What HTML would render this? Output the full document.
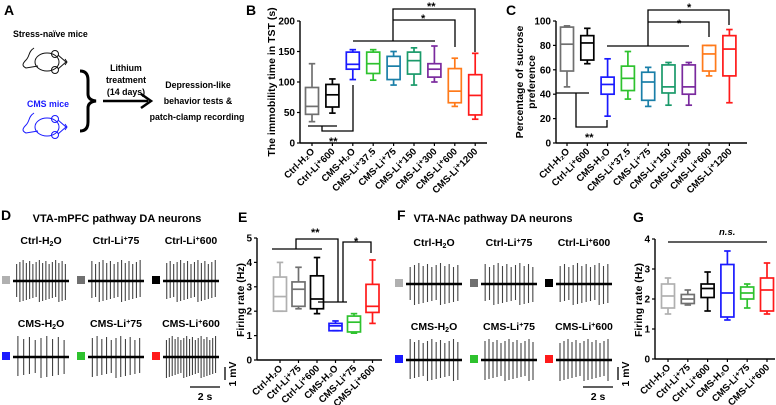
<!DOCTYPE html>
<html><head><meta charset="utf-8">
<style>
html,body{margin:0;padding:0;background:#fff;}
svg{display:block;font-family:"Liberation Sans",Arial,sans-serif;font-weight:bold;}
</style></head>
<body>
<svg id="fig" width="776" height="405" viewBox="0 0 776 405" xmlns="http://www.w3.org/2000/svg">
<!-- Panel A -->
<g>
<text x="4" y="15" font-size="14">A</text>
<text x="13" y="37" font-size="8.8">Stress-naïve mice</text>
<g fill="none" stroke="#111" stroke-width="1">
<path d="M34 48 C28 52 30 56 26 60 C22 64 22 66 26 68 L38 66"/>
<ellipse cx="47" cy="62" rx="12" ry="9"/>
<path d="M58 55 L66 62 L58 69"/>
<circle cx="55" cy="54" r="3.5"/><circle cx="55" cy="70" r="3.5"/>
<path d="M65 59 l2 3 l-2 3"/>
</g>
<text x="27" y="107" font-size="8.8" fill="#1a1aff">CMS mice</text>
<g fill="none" stroke="#1a1aff" stroke-width="1">
<path d="M34 113 C28 117 30 121 26 125 C22 129 22 131 26 133 L38 131"/>
<ellipse cx="47" cy="127" rx="12" ry="9"/>
<path d="M58 120 L66 127 L58 134"/>
<circle cx="55" cy="119" r="3.5"/><circle cx="55" cy="135" r="3.5"/>
<path d="M65 124 l2 3 l-2 3"/>
</g>
<path d="M80 71 Q88 71 88 80 L88 94 Q88 100 96 101 Q88 102 88 108 L88 122 Q88 131 80 131" fill="none" stroke="#000" stroke-width="3"/>
<line x1="103" y1="101" x2="148" y2="101" stroke="#000" stroke-width="2.5"/>
<path d="M141 94 L151 101 L141 108" fill="none" stroke="#000" stroke-width="2.5"/>
<g font-size="8.8" text-anchor="middle">
<text x="126" y="71">Lithium</text><text x="126" y="83">treatment</text><text x="126" y="95">(14 days)</text>
</g>
<g font-size="8.8" text-anchor="middle">
<text x="198" y="88">Depression-like</text><text x="198" y="104">behavior tests &amp;</text><text x="197" y="120">patch-clamp recording</text>
</g>
</g>
<g id="pB"></g>
<g id="pC"></g>
<g id="pD"></g>
<g id="pE"></g>
<g id="pF"></g>
<g id="pG"></g>
</svg>
<script>
// ---------- Data ----------
const bCats = ["Ctrl-H₂O","Ctrl-Li⁺600","CMS-H₂O","CMS-Li⁺37.5","CMS-Li⁺75","CMS-Li⁺150","CMS-Li⁺300","CMS-Li⁺600","CMS-Li⁺1200"];
const bMin = [35,49,104,103,95,95,100,60,39];
const bQ1  = [47,59,121,114,104,113,108,66,46];
const bMed = [60,79,129,130,126,135,121,85,78];
const bQ3  = [91,96,149,149,142,149,130,122,112];
const bMax = [130,105,153,153,150,156,159,139,147];
const bTicks = [0,50,100,150,200];

const cCats = bCats;
const cMin = [46,65,22,36,30,31,31,55,33];
const cQ1  = [59,68,40,43,35,41,40,59,55];
const cMed = [81,82,48,53,50,46,46,73,77];
const cQ3  = [95,88,54,63,58,64,64,80,88];
const cMax = [96,94,69,75,62,66,66,80,93];
const cTicks = [0,20,40,60,80,100];

const eCats = ["Ctrl-H₂O","Ctrl-Li⁺75","Ctrl-Li⁺600","CMS-H₂O","CMS-Li⁺75","CMS-Li⁺600"];
const eMin = [2.0,2.1,1.9,1.2,1.1,1.5];
const eQ1  = [2.0,2.2,2.1,1.2,1.15,1.95];
const eMed = [2.6,2.9,2.5,1.4,1.55,2.2];
const eQ3  = [3.4,3.2,3.45,1.5,1.8,3.1];
const eMax = [4.0,3.8,4.2,1.6,1.9,4.1];
const eTicks = [0,1,2,3,4,5];

const gCats = eCats;
const gMin = [1.5,1.8,1.6,1.3,1.7,1.5];
const gQ1  = [1.7,1.85,2.05,1.4,2.0,1.6];
const gMed = [2.1,2.0,2.35,2.2,2.2,2.3];
const gQ3  = [2.5,2.15,2.5,3.15,2.4,2.7];
const gMax = [2.7,2.3,2.9,3.6,2.5,3.2];
const gTicks = [0,1,2,3,4];

const bColors = ["#707070","#000","#1a1aff","#2ec22e","#1a7fa8","#1a9a6a","#7a2a9e","#ff7a1a","#ff1a1a"];
const eColors = ["#b0b0b0","#707070","#000","#1a1aff","#2ec22e","#ff1a1a"];

const NS="http://www.w3.org/2000/svg";
function mk(parent,tag,attrs){const e=document.createElementNS(NS,tag);for(const k in attrs)e.setAttribute(k,attrs[k]);parent.appendChild(e);return e;}

function chart(g,o){
  const ys=v=>o.y0-(v-o.vmin)/(o.vmax-o.vmin)*(o.y0-o.y1);
  const xs=i=>o.xFirst+i*o.step;
  const ya=mk(g,'line',{x1:o.ax,y1:o.y1,x2:o.ax,y2:o.y0,stroke:'#000','stroke-width':1.4});
  
  
  const xa=mk(g,'line',{x1:o.ax,y1:o.y0,x2:o.axEnd,y2:o.y0,stroke:'#000','stroke-width':1.4});
  
  
  o.ticks.forEach(t=>{
    mk(g,'line',{x1:o.ax-3,y1:ys(t),x2:o.ax,y2:ys(t),stroke:'#000','stroke-width':1.2});
    const tx=mk(g,'text',{x:o.ax-5,y:ys(t)+3.5,'font-size':10,'text-anchor':'end'});
    tx.textContent=t;
    
    
  });
  o.cats.forEach((c,i)=>{
    const x=xs(i);
    mk(g,'line',{x1:x,y1:o.y0,x2:x,y2:o.y0+3,stroke:'#000','stroke-width':1.2});
    const tx=mk(g,'text',{x:x+3,y:o.y0+9,'font-size':o.cfs||9.6,'text-anchor':'end',transform:`rotate(-45 ${x+3} ${o.y0+9})`});
    tx.textContent=c;
    
    
    const col=o.colors[i], w=o.bw/2;
    const bg=mk(g,'g',{fill:'none',stroke:col,'stroke-width':1.7});
    
    
    mk(bg,'line',{x1:x,y1:ys(o.max[i]),x2:x,y2:ys(o.q3[i])});
    mk(bg,'line',{x1:x,y1:ys(o.q1[i]),x2:x,y2:ys(o.min[i])});
    mk(bg,'line',{x1:x-w/2,y1:ys(o.max[i]),x2:x+w/2,y2:ys(o.max[i])});
    mk(bg,'line',{x1:x-w/2,y1:ys(o.min[i]),x2:x+w/2,y2:ys(o.min[i])});
    mk(bg,'rect',{x:x-w,y:ys(o.q3[i]),width:o.bw,height:Math.max(0.5,ys(o.q1[i])-ys(o.q3[i]))});
    mk(bg,'line',{x1:x-w,y1:ys(o.med[i]),x2:x+w,y2:ys(o.med[i])});
  });
  return {xs,ys};
}
function poly(g,pts,name){const p=mk(g,'polyline',{points:pts.map(p=>p.join(',')).join(' '),fill:'none',stroke:'#000','stroke-width':1.3});}
function txt(g,x,y,s,size,name,extra){const t=mk(g,'text',Object.assign({x:x,y:y,'font-size':size},extra||{}));t.textContent=s;return t;}

// ---------- B ----------
{const g=document.getElementById('pB');
 txt(g,246,15,'B',14,'panel-label-b');
 chart(g,{ax:300,axEnd:487,y0:143,y1:21,vmin:0,vmax:200,ticks:bTicks,cats:bCats,xFirst:312,step:20.4,bw:13,colors:bColors,min:bMin,q1:bQ1,med:bMed,q3:bQ3,max:bMax});
 txt(g,0,0,'The immobility time in TST (s)',10.5,'y-axis-title',{transform:'rotate(-90) translate(-82 275)','text-anchor':'middle'});
 poly(g,[[353,41],[435,41]],'sig-line');
 poly(g,[[393,41],[393,9],[475,9],[475,52]],'sig-line');
 poly(g,[[393,20],[455,20],[455,47]],'sig-line');
 txt(g,421,22,'*',11,'sig-star');
 txt(g,427,10,'**',11,'sig-star');
 poly(g,[[308,126],[337,126]],'sig-line');
 poly(g,[[322,126],[322,131],[353,131],[353,85]],'sig-line');
 txt(g,329,145,'**',11,'sig-star');
}
// ---------- C ----------
{const g=document.getElementById('pC');
 txt(g,506,15,'C',14,'panel-label-c');
 chart(g,{ax:556,axEnd:747,y0:143,y1:21,vmin:0,vmax:100,ticks:cTicks,cats:cCats,xFirst:567,step:20.3,bw:13,colors:bColors,min:cMin,q1:cQ1,med:cMed,q3:cQ3,max:cMax});
 txt(g,0,0,'Percentage of sucrose',10.5,'y-axis-title',{transform:'rotate(-90) translate(-82 523)','text-anchor':'middle'});
 txt(g,0,0,'preference',10.5,'y-axis-title-line2',{transform:'rotate(-90) translate(-82 535)','text-anchor':'middle'});
 poly(g,[[607,46],[689,46]],'sig-line');
 poly(g,[[648,46],[648,10],[729,10],[729,25]],'sig-line');
 poly(g,[[648,22],[709,22],[709,37]],'sig-line');
 txt(g,677,27,'*',11,'sig-star');
 txt(g,687,11,'*',11,'sig-star');
 poly(g,[[556,93],[589,93]],'sig-line');
 poly(g,[[576,93],[576,127],[607,127],[607,120]],'sig-line');
 txt(g,585,141,'**',11,'sig-star');
}
// ---------- E ----------
{const g=document.getElementById('pE');
 txt(g,238,222,'E',14,'panel-label-e');
 chart(g,{ax:257,axEnd:382,y0:360,y1:238,vmin:0,vmax:5,ticks:eTicks,cats:eCats,xFirst:280,step:18.5,bw:13,colors:eColors,min:eMin,q1:eQ1,med:eMed,q3:eQ3,max:eMax});
 txt(g,0,0,'Firing rate (Hz)',10.5,'y-axis-title',{transform:'rotate(-90) translate(-300 244)','text-anchor':'middle'});
 poly(g,[[272,249],[322,249]],'sig-line');
 poly(g,[[296,249],[296,239],[338,239],[338,302]],'sig-line');
 poly(g,[[318,302],[347,302]],'sig-line');
 poly(g,[[343,302],[343,242],[371,242],[371,253]],'sig-line');
 txt(g,311,236,'**',11,'sig-star');
 txt(g,354,245,'*',11,'sig-star');
}
// ---------- G ----------
{const g=document.getElementById('pG');
 txt(g,633,222,'G',14,'panel-label-g');
 chart(g,{ax:655,axEnd:775,y0:359,y1:239,vmin:0,vmax:4,ticks:gTicks,cats:gCats,xFirst:668,step:19.8,bw:13,colors:eColors,min:gMin,q1:gQ1,med:gMed,q3:gQ3,max:gMax});
 txt(g,0,0,'Firing rate (Hz)',10.5,'y-axis-title',{transform:'rotate(-90) translate(-300 642)','text-anchor':'middle'});
 poly(g,[[668,242],[767,242]],'ns-line');
 txt(g,719,235,'n.s.',9.5,'ns-label',{'font-style':'italic'});
}
// ---------- Traces ----------
const dSpikes=[16,14,15,9,11,18];
const fSpikes=[12,12,12,12,13,13];
const traceLabels=[["Ctrl-H","2","O"],["Ctrl-Li","+","75"],["Ctrl-Li","+","600"],["CMS-H","2","O"],["CMS-Li","+","75"],["CMS-Li","+","600"]];
function traces(g,o){
  txt(g,o.lx,220,o.letter,14,'panel-label-'+o.letter.toLowerCase());
  txt(g,o.tx,222,o.title,11,'traces-title',{'text-anchor':'middle'});
  for(let i=0;i<6;i++){
    const col=i%3,row=Math.floor(i/3);
    const x0=o.xs[col],base=o.base[row];
    const lab=traceLabels[i];
    const t=mk(g,'text',{x:x0+28,y:o.ly[row],'font-size':10.5,'text-anchor':'middle'});
    
    
    const a=mk(t,'tspan',{});a.textContent=lab[0];
    const b=mk(t,'tspan',{'font-size':7,dy:lab[1]==='2'?2:-3});b.textContent=lab[1];
    const c=mk(t,'tspan',{'font-size':10.5,dy:lab[1]==='2'?-2:3});c.textContent=lab[2];
    const sq=mk(g,'rect',{x:x0-11,y:base-5,width:8,height:8,fill:eColors[i]});
    
    
    const tg=mk(g,'g',{stroke:'#000'});
    
    
    const n=o.spikes[i],w=56;
    for(let k=0;k<n;k++){
      const x=x0+2+(k+0.5)*(w-4)/n;
      const up=17+((k*7+i*3)%5), dn=16+((k*5+i)%6);
      mk(tg,'line',{x1:x,y1:base-up,x2:x,y2:base+dn,'stroke-width':1.1,stroke:'#444'});
    }
    mk(tg,'line',{x1:x0,y1:base,x2:x0+w,y2:base,'stroke-width':2.4});
  }
  poly(g,[[o.sb,387],[o.sb+30,387]],'time-scale-bar');
  txt(g,o.sb+15,400,'2 s',10.5,'time-scale-label',{'text-anchor':'middle'});
  poly(g,[[o.vb,367],[o.vb,380]],'voltage-scale-bar');
  txt(g,0,0,'1 mV',10.5,'voltage-scale-label',{transform:`rotate(-90) translate(-374 ${o.vb+11})`,'text-anchor':'middle'});
}
traces(document.getElementById('pD'),{letter:'D',lx:1,tx:117,title:'VTA-mPFC pathway DA neurons',xs:[13,88,163],base:[281,357],ly:[244,327],spikes:dSpikes,sb:190,vb:225});
traces(document.getElementById('pF'),{letter:'F',lx:397,tx:493,title:'VTA-NAc pathway DA neurons',xs:[406,481,556],base:[284,360],ly:[246,330],spikes:fSpikes,sb:583,vb:618});
</script>
</body></html>
